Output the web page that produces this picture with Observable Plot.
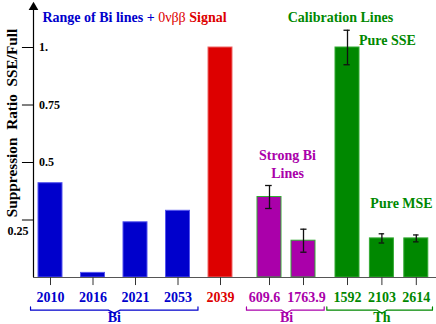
<!DOCTYPE html>
<html><head><meta charset="utf-8">
<script src="https://cdn.jsdelivr.net/npm/d3@7"></script>
<script src="https://cdn.jsdelivr.net/npm/@observablehq/plot@0.6"></script>
<style>body{margin:0;background:#fff}</style>
</head><body><div id="chart"></div>
<script>
// ---- data ----
const categories = ["2010","2016","2021","2053","2039","609.6","1763.9","1592","2103","2614"];
const values     = [0.41, 0.02, 0.24, 0.29, 1.0, 0.35, 0.16, 1.0, 0.17, 0.17];
const errors     = [null, null, null, null, null, 0.05, 0.05, 0.075, 0.02, 0.015];
const groups     = ["range","range","range","range","signal","strongBi","strongBi","calib","calib","calib"];
const yTicks     = [0.25, 0.5, 0.75, 1];
const yTickLabels= ["0.25","0.5","0.75","1."];
const braceLabels= ["Bi","Bi","Th"];
const braceFrom  = [0, 5, 7];
const braceTo    = [3, 6, 9];
const braceGroup = ["range","strongBi","calib"];
const titleText  = "Range of Bi lines + 0νββ Signal";

// ---- styles ----
const fillC  = {range:"#0000cc", signal:"#dd0000", strongBi:"#aa00aa", calib:"#008800"};
const edgeC  = {range:"#5555ee", signal:"#ee6666", strongBi:"#33aa33", calib:"#33aa33"};
const textC  = {range:"#0000cc", signal:"#dd0000", strongBi:"#aa00aa", calib:"#008800"};
const labelShift = {"609.6": -5, "1763.9": 3};

const bars = categories.map((c,i)=>({i, c, v: values[i], g: groups[i], e: errors[i]}));
const errs = bars.filter(d=>d.e!=null);

const braces = [];
braceLabels.forEach((lab,k)=>{
  const a = braceFrom[k]-0.47, b = braceTo[k]+0.47, m = (braceFrom[k]+braceTo[k])/2;
  [[a,-0.128],[a,-0.142],[m-0.14,-0.142],[m,-0.155],[m+0.14,-0.142],[b,-0.142],[b,-0.128]]
    .forEach(([x,y])=>braces.push({k, x, y, g: braceGroup[k]}));
});
const braceText = braceLabels.map((t,k)=>({t, x:(braceFrom[k]+braceTo[k])/2, g: braceGroup[k]}));

const F = "Liberation Serif";
const chart = Plot.plot({
  width: 436, height: 324,
  marginLeft: 0, marginRight: 0, marginTop: 0, marginBottom: 0,
  x: {type: "linear", domain: [-0.4, 4, 5, 6, 7, 9.5], range: [33, 220, 269, 303, 347, 433], axis: null},
  y: {domain: [0, 1.2], range: [277, 1], axis: null},
  style: {fontFamily: F, background: "#fff"},
  marks: [
    // bars
    Plot.rect(bars, {x1: "i", x2: "i", y1: 0, y2: "v", insetLeft: -12, insetRight: -12,
      fill: d=>fillC[d.g], stroke: d=>edgeC[d.g], strokeWidth: 1}),
    // error bars
    Plot.ruleX(errs, {x: "i", y1: d=>d.v-d.e, y2: d=>d.v+d.e, stroke: "#111", strokeWidth: 1.3}),
    Plot.ruleY(errs, {y: d=>d.v+d.e, x1: d=>d.i-0.08, x2: d=>d.i+0.08, stroke: "#111", strokeWidth: 1.3}),
    Plot.ruleY(errs, {y: d=>d.v-d.e, x1: d=>d.i-0.08, x2: d=>d.i+0.08, stroke: "#111", strokeWidth: 1.3}),
    // x axis
    Plot.ruleY([0], {x1: -0.4, x2: 9.6, stroke: "#555", strokeWidth: 1.2}),
    Plot.ruleX(bars, {x: "i", y1: 0, y2: -0.035, stroke: "#333"}),
    Plot.text(bars, {x: "i", y: -0.087, text: "c", fill: d=>textC[d.g], fontSize: 14, fontWeight: "bold"}),
    // y axis
    Plot.ruleX([-0.4], {y1: 0, y2: 1.17, stroke: "#000", strokeWidth: 1.2}),
    Plot.dot([1.175], {x: -0.4, y: d=>d, symbol: "triangle", r: 3.6, fill: "#000", stroke: "none"}),
    Plot.ruleY(yTicks, {x1: -0.66, x2: -0.4, stroke: "#000"}),
    Plot.text(yTicks.slice(1), {x: -0.27, y: d=>d, text: (d,i)=>yTickLabels[i+1], textAnchor: "start", fontSize: 12, fontWeight: "bold", fill: "#000"}),
    Plot.text([yTicks[0]], {x: -0.52, y: d=>d, dy: 11, text: [yTickLabels[0]], textAnchor: "end", fontSize: 12, fontWeight: "bold", fill: "#000"}),
    Plot.text(["Suppression\u2002Ratio\u2002SSE/Full"], {x: -0.9, y: 0.672, text: d=>d, rotate: -90, fontSize: 15.3, fontWeight: "bold", fill: "#000"}),
    // braces
    Plot.line(braces, {x: "x", y: "y", z: "k", stroke: d=>textC[d.g], strokeWidth: 1.2, curve: "linear"}),
    Plot.text(braceText, {x: "x", y: -0.172, text: "t", fill: d=>textC[d.g], fontSize: 14, fontWeight: "bold"}),
    // annotations
    Plot.text([titleText], {x: -0.19, y: 1.13, text: d=>d, textAnchor: "start", fontSize: 14, fontWeight: "bold", fill: textC.range}),
    Plot.text(["Calibration Lines"], {x: 6.84, y: 1.13, text: d=>d, fontSize: 14, fontWeight: "bold", fill: textC.calib}),
    Plot.text(["Pure SSE"], {x: 8.16, y: 1.03, text: d=>d, fontSize: 14, fontWeight: "bold", fill: textC.calib}),
    Plot.text(["Strong Bi"], {x: 5.53, y: 0.53, text: d=>d, fontSize: 14, fontWeight: "bold", fill: textC.strongBi}),
    Plot.text(["Lines"], {x: 5.53, y: 0.452, text: d=>d, fontSize: 14, fontWeight: "bold", fill: textC.strongBi}),
    Plot.text(["Pure MSE"], {x: 8.57, y: 0.322, text: d=>d, fontSize: 14, fontWeight: "bold", fill: textC.calib})
  ]
});
document.getElementById("chart").appendChild(chart);
// post-adjust: shift the two crowded tick labels, split the title colours
d3.select(chart).selectAll("text").each(function(){
  const el = d3.select(this);
  const s = this.textContent;
  if (s in labelShift && !this.querySelector("tspan")) {
    const tr = el.attr("transform") || "";
    el.attr("transform", tr + ` translate(${labelShift[s]},0)`);
  }
  if (s === titleText) {
    const target = this.querySelector("tspan") ? d3.select(this.querySelector("tspan")) : el;
    target.text(null);
    target.append("tspan").text("Range of Bi lines + ");
    target.append("tspan").attr("fill", textC.signal).attr("font-weight", "normal").text("0νββ");
    target.append("tspan").attr("fill", textC.signal).text(" Signal");
  }
});
</script></body></html>
